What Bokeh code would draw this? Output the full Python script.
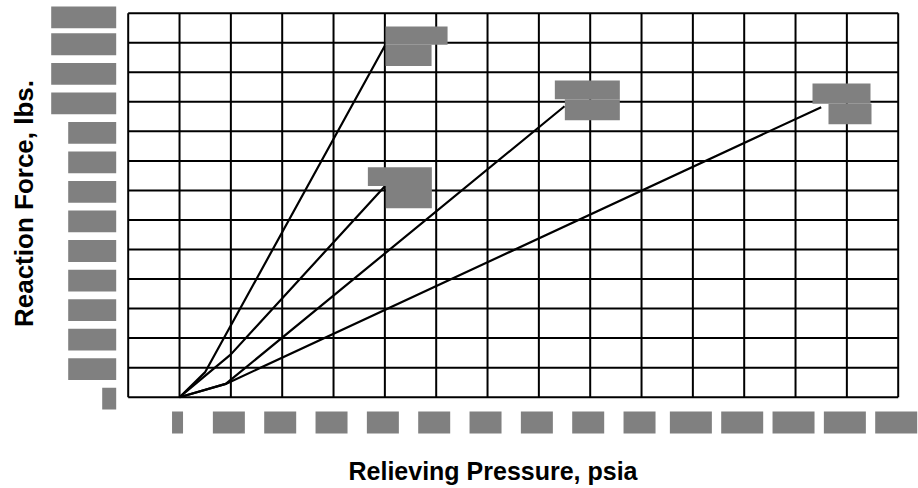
import math
from bokeh.plotting import figure
from bokeh.models import Range1d, Label, ColumnDataSource
from bokeh.core.properties import value
from bokeh.embed import file_html
from bokeh.resources import INLINE

# ---------------- data ----------------
pressure_ticks = [0, 10, 20, 30, 40, 50, 60, 70, 80, 90, 100, 110, 120, 130, 140]
pressure_grid = [-10] + pressure_ticks
pressure_labels = [str(v) for v in pressure_ticks]

force_ticks = [0, 100, 200, 300, 400, 500, 600, 700, 800, 900, 1000, 1100, 1200, 1300]
force_labels = [str(v) for v in force_ticks]

curve_a_psia = [0, 5, 40]
curve_a_lbs = [0, 85, 1190]
curve_b_psia = [0, 10, 40]
curve_b_lbs = [0, 145, 714]
curve_c_psia = [0, 9, 75]
curve_c_lbs = [0, 45, 985]
curve_d_psia = [0, 9, 125]
curve_d_lbs = [0, 45, 982]

curve_top_labels = ["Orifice", "Orifice", "Orifice", "Orifice"]
curve_bottom_labels = ["T", "R", "Q", "P"]

x_title = "Relieving Pressure, psia"
y_title = "Reaction Force, lbs."

# ---------------- layout ----------------
W, H = 918, 488
GX0, GX1 = 127.7, 897.7      # canvas x of first / last vertical grid line
GY0, GY1 = 12.7, 396.7       # canvas y of top / bottom horizontal grid line
GRAY = "#808080"
FONT = value("Liberation Sans")

xmin, xmax = pressure_grid[0], pressure_grid[-1]
ymin, ymax = force_ticks[0], force_ticks[-1]
sx = (GX1 - GX0) / (xmax - xmin)
sy = (GY1 - GY0) / (ymax - ymin)
x_start = xmin - GX0 / sx
x_end = x_start + W / sx
y_end = ymax + GY0 / sy
y_start = y_end - H / sy


def dx(cx):
    return x_start + cx / sx


def dy(cy):
    return y_end - cy / sy


def cxp(x):
    return (x - x_start) * sx


def cyp(y):
    return (y_end - y) * sy


p = figure(width=W, height=H, x_range=Range1d(x_start, x_end), y_range=Range1d(y_start, y_end),
           x_axis_location=None, y_axis_location=None, toolbar_location=None,
           output_backend="svg", min_border=0, outline_line_color=None, title=None)
p.grid.visible = False
p.background_fill_color = "white"
p.border_fill_color = "white"

# grid
p.segment(x0=pressure_grid, y0=[ymin] * len(pressure_grid), x1=pressure_grid, y1=[ymax] * len(pressure_grid),
          line_color="black", line_width=2)
p.segment(x0=[xmin] * len(force_ticks), y0=force_ticks, x1=[xmax] * len(force_ticks), y1=force_ticks,
          line_color="black", line_width=2)

# curves
curves = [(curve_a_psia, curve_a_lbs), (curve_b_psia, curve_b_lbs),
          (curve_c_psia, curve_c_lbs), (curve_d_psia, curve_d_lbs)]
for xs, ys in curves:
    p.line(xs, ys, line_color="black", line_width=2.2)

# label boxes helper
boxes = dict(left=[], right=[], top=[], bottom=[])
texts = dict(x=[], y=[], text=[])


def add_box(l, r, t, b, txt):
    boxes["left"].append(dx(l))
    boxes["right"].append(dx(r))
    boxes["top"].append(dy(t))
    boxes["bottom"].append(dy(b))
    texts["x"].append(dx((l + r) / 2))
    texts["y"].append(dy((t + b) / 2))
    texts["text"].append(txt)


box_w = {1: 11, 2: 32, 3: 42}
for v, lab in zip(pressure_ticks, pressure_labels):
    c = cxp(v) - 2
    w = box_w[len(lab)]
    cy_ = GY1 + 25.3
    add_box(c - w / 2, c + w / 2, cy_ - 11, cy_ + 11, lab)

ybox_w = {1: 14, 3: 48, 4: 65}
for v, lab in zip(force_ticks, force_labels):
    w = ybox_w[len(lab)]
    r = GX0 - 12
    cy_ = max(cyp(v) + 1.5, 6 + 10.9)
    add_box(r - w, r, cy_ - 10.9, cy_ + 10.9, lab)

# curve-end labels (offsets in px from curve end)
end_boxes = [
    ((0.7, 62.7, -19.3, -1.0), (0.7, 46.7, -1.0, 20.4)),
    ((-17.0, 47.0, -19.0, -0.3), (1.0, 47.0, -0.3, 22.0)),
    ((-9.7, 55.3, -25.7, -7.0), (0.3, 55.3, -7.0, 14.0)),
    ((-8.7, 49.3, -23.7, -3.4), (7.3, 50.3, -3.4, 17.0)),
]
for (xs, ys), (tb, bb), t1, t2 in zip(curves, end_boxes, curve_top_labels, curve_bottom_labels):
    ex, ey = cxp(xs[-1]), cyp(ys[-1])
    add_box(ex + tb[0], ex + tb[1], ey + tb[2], ey + tb[3], t1)
    add_box(ex + bb[0], ex + bb[1], ey + bb[2], ey + bb[3], t2)

p.quad(source=ColumnDataSource(boxes), left="left", right="right", top="top", bottom="bottom",
       fill_color=GRAY, line_color=None)
p.text(source=ColumnDataSource(texts), x="x", y="y", text="text", text_color=GRAY,
       text_font=FONT, text_font_style="bold", text_font_size="11px",
       text_align="center", text_baseline="middle")

# axis titles
p.add_layout(Label(x=492.5, y=H - 470.5, x_units="screen", y_units="screen", text=x_title,
                   text_font="Liberation Sans", text_font_style="bold", text_font_size="25px",
                   text_align="center", text_baseline="middle", text_color="black"))
p.add_layout(Label(x=23.5, y=H - 203.0, x_units="screen", y_units="screen", text=y_title,
                   angle=math.pi / 2, text_font="Liberation Sans", text_font_style="bold",
                   text_font_size="26px", text_align="center", text_baseline="middle",
                   text_color="black"))

open("out.html", "w").write(file_html(p, INLINE))
